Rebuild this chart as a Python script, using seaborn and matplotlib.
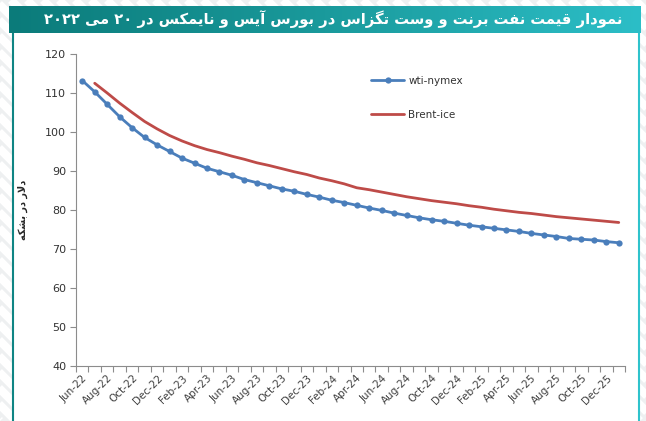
import re
import numpy as np
import pandas as pd
import matplotlib
matplotlib.use('Agg')
import matplotlib.pyplot as plt
from matplotlib.patches import Rectangle
import seaborn as sns

# monthly categories, Jun-22 .. Jan-26
months = pd.date_range('2022-06-01', periods=44, freq='MS').strftime('%b-%y').tolist()

wti = [113.2, 110.3, 107.1, 103.9, 101.1, 98.6, 96.7, 95.0, 93.3, 92.0,
       90.7, 89.8, 88.9, 87.8, 87.0, 86.2, 85.4, 84.8, 84.0, 83.3,
       82.5, 81.9, 81.2, 80.5, 79.9, 79.2, 78.6, 78.0, 77.5, 77.1,
       76.6, 76.1, 75.7, 75.3, 74.9, 74.5, 74.0, 73.6, 73.2, 72.7,
       72.5, 72.3, 71.9, 71.6]

brent = [np.nan, 112.5, 110.0, 107.4, 105.0, 102.7, 100.8, 99.1, 97.7, 96.5,
         95.5, 94.7, 93.8, 93.0, 92.1, 91.4, 90.6, 89.8, 89.1, 88.2,
         87.5, 86.7, 85.7, 85.2, 84.6, 84.0, 83.4, 82.9, 82.4, 82.0,
         81.6, 81.1, 80.7, 80.2, 79.8, 79.4, 79.1, 78.7, 78.3, 78.0,
         77.7, 77.4, 77.1, 76.8]

title_fa = 'نمودار قیمت نفت برنت و وست تگزاس در بورس آیس و نایمکس در ۲۰ می ۲۰۲۲'
ylabel_fa = 'دلار در بشکه'

# tiny arabic shaper (matplotlib has no shaping / bidi)
FORMS = {
    'ا': ('\uFE8D', '\uFE8E', None, None),
    'آ': ('\uFE81', '\uFE82', None, None),
    'د': ('\uFEA9', '\uFEAA', None, None),
    'ر': ('\uFEAD', '\uFEAE', None, None),
    'ز': ('\uFEAF', '\uFEB0', None, None),
    'و': ('\uFEED', '\uFEEE', None, None),
    'ب': ('\uFE8F', '\uFE90', '\uFE91', '\uFE92'),
    'ت': ('\uFE95', '\uFE96', '\uFE97', '\uFE98'),
    'س': ('\uFEB1', '\uFEB2', '\uFEB3', '\uFEB4'),
    'ش': ('\uFEB5', '\uFEB6', '\uFEB7', '\uFEB8'),
    'ف': ('\uFED1', '\uFED2', '\uFED3', '\uFED4'),
    'ق': ('\uFED5', '\uFED6', '\uFED7', '\uFED8'),
    'ک': ('\uFB8E', '\uFB8F', '\uFB90', '\uFB91'),
    'گ': ('\uFB92', '\uFB93', '\uFB94', '\uFB95'),
    'ل': ('\uFEDD', '\uFEDE', '\uFEDF', '\uFEE0'),
    'م': ('\uFEE1', '\uFEE2', '\uFEE3', '\uFEE4'),
    'ن': ('\uFEE5', '\uFEE6', '\uFEE7', '\uFEE8'),
    'ه': ('\uFEE9', '\uFEEA', '\uFEEB', '\uFEEC'),
    'ی': ('\uFBFC', '\uFBFD', '\uFBFE', '\uFBFF'),
}


def shape(text):
    out = []
    n = len(text)
    i = 0
    while i < n:
        c = text[i]
        if c not in FORMS:
            out.append(c)
            i += 1
            continue
        prev = text[i - 1] if i > 0 else None
        joins_prev = prev in FORMS and FORMS[prev][2] is not None
        if c == 'ل' and i + 1 < n and text[i + 1] in ('ا', 'آ'):
            lig = {'ا': ('\uFEFB', '\uFEFC'), 'آ': ('\uFEF5', '\uFEF6')}[text[i + 1]]
            out.append(lig[1] if joins_prev else lig[0])
            i += 2
            continue
        nxt = text[i + 1] if i + 1 < n else None
        joins_next = FORMS[c][2] is not None and nxt in FORMS
        iso, fin, ini, med = FORMS[c]
        if joins_prev and joins_next:
            out.append(med)
        elif joins_prev:
            out.append(fin)
        elif joins_next:
            out.append(ini)
        else:
            out.append(iso)
        i += 1
    s = ''.join(out)[::-1]
    s = re.sub(r'[0-9\u06F0-\u06F9]+', lambda m: m.group(0)[::-1], s)
    return s


sns.set_style('white')
plt.rcParams['font.family'] = ['DejaVu Sans']

W, H = 646, 421
fig = plt.figure(figsize=(W / 100, H / 100), dpi=100)

# background: stripes, white panel, title bar
bg = fig.add_axes([0, 0, 1, 1], zorder=-5)
bg.set_xlim(0, W)
bg.set_ylim(H, 0)
bg.axis('off')
bg.add_patch(Rectangle((0, 0), W, H, color='#eef0f1', zorder=0))
for k in range(-H, W + H, 16):
    bg.plot([k, k + H], [0, H], color='white', lw=6, zorder=1, solid_capstyle='butt')
bg.add_patch(Rectangle((12, 33), 627, H - 33, facecolor='white', edgecolor='none', zorder=2))
bg.plot([12.5, 12.5], [33, H], color='#0f8584', lw=1.5, zorder=3)
bg.plot([639, 639], [33, H], color='#2fc3cc', lw=1.5, zorder=3)
grad = np.linspace(0, 1, 256).reshape(1, -1)
cmap = matplotlib.colors.LinearSegmentedColormap.from_list('bar', ['#0b7b7a', '#1a9a9c', '#2cbec7'])
bg.imshow(grad, cmap=cmap, aspect='auto', extent=(9, 641, 33, 6), zorder=4)
bg.text(333, 19.5, shape(title_fa), color='white', fontsize=10.6, fontweight='bold',
        ha='center', va='center', zorder=5)

# main chart
ax = fig.add_axes([76 / W, 1 - 366 / H, 549 / W, 312 / H])
ax.set_facecolor('white')
pos = np.arange(len(months))
df = pd.DataFrame({'pos': pos, 'wti': wti, 'brent': brent})

sns.lineplot(data=df, x='pos', y='wti', ax=ax, color='#4a7ebb', lw=2.0,
             marker='o', markersize=4.5, markeredgewidth=0, label='wti-nymex')
sns.lineplot(data=df.dropna(), x='pos', y='brent', ax=ax, color='#be4b48', lw=2.0,
             label='Brent-ice')

ax.set_xlim(-0.5, len(months) - 0.5)
ax.set_ylim(40, 120)
ax.set_yticks(range(40, 121, 10))
ax.set_xticks(pos[::2])
ax.set_xticklabels(months[::2], rotation=45, ha='right', rotation_mode='anchor',
                   fontsize=7.5, color='#404040')
ax.set_xticks(np.arange(-0.5, len(months), 1), minor=True)
ax.tick_params(axis='x', which='major', length=0, pad=5)
ax.tick_params(axis='x', which='minor', length=4, color='#8c8c8c', width=0.8, direction='out')
ax.tick_params(axis='y', length=4, color='#8c8c8c', width=0.8, direction='out',
               labelsize=8, labelcolor='#333333', pad=3)
ax.tick_params(bottom=True, left=True, which='both')
ax.set_xlabel('')
ax.set_ylabel(shape(ylabel_fa), fontsize=7, fontweight='bold', labelpad=12)
for side in ['top', 'right']:
    ax.spines[side].set_visible(False)
for side in ['left', 'bottom']:
    ax.spines[side].set_color('#8c8c8c')
    ax.spines[side].set_linewidth(0.8)

leg = ax.legend(loc='upper left', bbox_to_anchor=(0.52, 0.96), frameon=False,
                fontsize=7.5, handlelength=3.2, labelspacing=2.3, handletextpad=0.4)
for t in leg.get_texts():
    t.set_color('#333333')

fig.savefig('out.png', dpi=100)
